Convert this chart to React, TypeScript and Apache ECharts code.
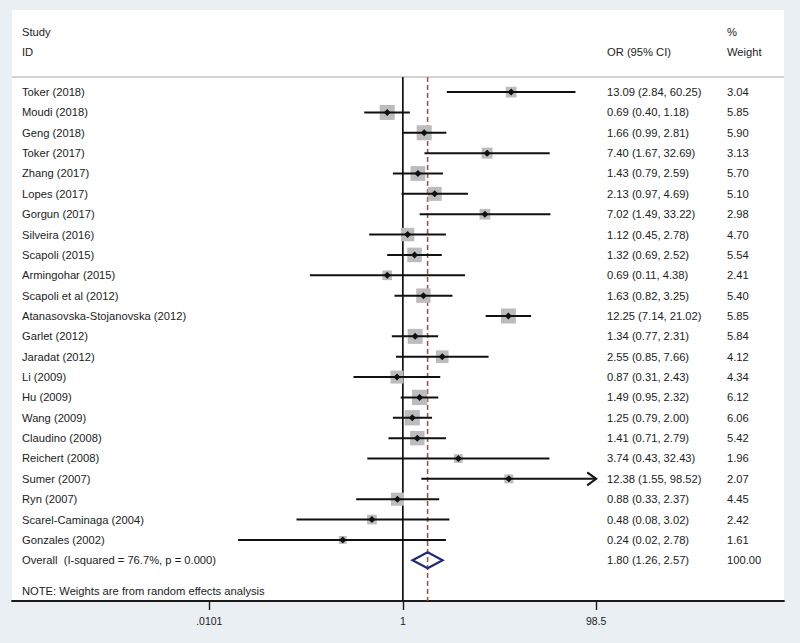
import React, { useEffect, useRef } from "react";
import * as echarts from "echarts";

const studies = [
  "Toker (2018)", "Moudi (2018)", "Geng (2018)", "Toker (2017)", "Zhang (2017)",
  "Lopes (2017)", "Gorgun (2017)", "Silveira (2016)", "Scapoli (2015)", "Armingohar (2015)",
  "Scapoli et al (2012)", "Atanasovska-Stojanovska (2012)", "Garlet (2012)", "Jaradat (2012)",
  "Li (2009)", "Hu (2009)", "Wang (2009)", "Claudino (2008)", "Reichert (2008)",
  "Sumer (2007)", "Ryn (2007)", "Scarel-Caminaga (2004)", "Gonzales (2002)",
];
const oddsRatios = [13.09, 0.69, 1.66, 7.40, 1.43, 2.13, 7.02, 1.12, 1.32, 0.69, 1.63, 12.25, 1.34, 2.55, 0.87, 1.49, 1.25, 1.41, 3.74, 12.38, 0.88, 0.48, 0.24];
const lowerCI = [2.84, 0.40, 0.99, 1.67, 0.79, 0.97, 1.49, 0.45, 0.69, 0.11, 0.82, 7.14, 0.77, 0.85, 0.31, 0.95, 0.79, 0.71, 0.43, 1.55, 0.33, 0.08, 0.02];
const upperCI = [60.25, 1.18, 2.81, 32.69, 2.59, 4.69, 33.22, 2.78, 2.52, 4.38, 3.25, 21.02, 2.31, 7.66, 2.43, 2.32, 2.00, 2.79, 32.43, 98.52, 2.37, 3.02, 2.78];
const weights = [3.04, 5.85, 5.90, 3.13, 5.70, 5.10, 2.98, 4.70, 5.54, 2.41, 5.40, 5.85, 5.84, 4.12, 4.34, 6.12, 6.06, 5.42, 1.96, 2.07, 4.45, 2.42, 1.61];

const overallLabel = "Overall  (I-squared = 76.7%, p = 0.000)";
const overallOR = 1.80;
const overallLower = 1.26;
const overallUpper = 2.57;
const overallWeight = 100.0;

const xTickValues = [0.0101, 1, 98.5];
const xTickLabels = [".0101", "1", "98.5"];
const noteText = "NOTE: Weights are from random effects analysis";

const FONT = '"Liberation Sans", Arial, sans-serif';
const FS = 11.2;
const TEXT = "#1c1c1c";
const X_MIN = -4.03;
const X_MAX = 3.93;
const AXIS_MAX_LOG = Math.log10(xTickValues[xTickValues.length - 1]);
const logTicks = xTickValues.map((v) => Math.log10(v));

const fmt = (v: number) => v.toFixed(2);

export default function App() {
  const ref = useRef<HTMLDivElement>(null);
  useEffect(() => {
    if (!ref.current) return;
    const chart = echarts.init(ref.current, null, { renderer: "svg" });

    const studyData = studies.map((_, i) => {
      const hiLog = Math.log10(upperCI[i]);
      const clipped = hiLog > AXIS_MAX_LOG ? 1 : 0;
      return [i, Math.log10(oddsRatios[i]), Math.log10(lowerCI[i]), clipped ? AXIS_MAX_LOG : hiLog, weights[i], clipped];
    });
    const textData = studies.map((_, i) => [i]);
    const overallRow = studies.length;
    const headStyle = (text: string) => ({ text, fill: TEXT, fontSize: FS, fontFamily: FONT, verticalAlign: "middle", textVerticalAlign: "middle" });

    const option: any = {
      animation: false,
      backgroundColor: "#e9eff2",
      grid: { left: 12, right: 16, top: 77, bottom: 42, containLabel: false },
      xAxis: {
        type: "value",
        min: X_MIN,
        max: X_MAX,
        splitLine: { show: false },
        axisLine: { show: true, onZero: false, lineStyle: { color: "#1a1a1a", width: 1.8 } },
        axisTick: { show: true, customValues: logTicks, length: 9, lineStyle: { color: "#1a1a1a", width: 1.4 } },
        axisLabel: {
          show: true,
          customValues: logTicks,
          margin: 14,
          color: TEXT,
          fontSize: 10.5,
          fontFamily: FONT,
          formatter: (v: number) => {
            const k = logTicks.findIndex((t) => Math.abs(t - v) < 1e-6);
            return k >= 0 ? xTickLabels[k] : "";
          },
        },
      },
      yAxis: { type: "value", inverse: true, min: -0.74, max: 25.0, show: false },
      graphic: [
        { type: "rect", z: -10, shape: { x: 12, y: 10, width: 772, height: 591 }, style: { fill: "#ffffff" } },
        { type: "line", z: 1, shape: { x1: 12, y1: 77, x2: 784, y2: 77 }, style: { stroke: "#c4c4c4", lineWidth: 1.6 } },
        { type: "text", x: 22, y: 32, style: headStyle("Study") },
        { type: "text", x: 22, y: 52, style: headStyle("ID") },
        { type: "text", x: 607, y: 52, style: headStyle("OR (95% CI)") },
        { type: "text", x: 727, y: 32, style: headStyle("%") },
        { type: "text", x: 727, y: 52, style: headStyle("Weight") },
        { type: "text", x: 22, y: 591, style: headStyle(noteText) },
      ],
      series: [
        {
          type: "custom",
          name: "refs",
          data: [[0, 0], [Math.log10(overallOR), 1]],
          z: 1,
          renderItem: (params: any, api: any) => {
            const x = api.coord([api.value(0), 0])[0];
            const cs = params.coordSys;
            const dashed = api.value(1) === 1;
            return {
              type: "line",
              shape: { x1: x, y1: cs.y, x2: x, y2: cs.y + cs.height },
              style: dashed
                ? { stroke: "#b4473d", lineWidth: 1.5, lineDash: [5, 3] }
                : { stroke: "#111111", lineWidth: 1.7 },
            };
          },
        },
        {
          type: "custom",
          name: "studies",
          data: studyData,
          z: 3,
          renderItem: (params: any, api: any) => {
            const i = api.value(0);
            const [xp, y] = api.coord([api.value(1), i]);
            const xl = api.coord([api.value(2), i])[0];
            const xh = api.coord([api.value(3), i])[0];
            const w = api.value(4);
            const clipped = api.value(5) === 1;
            const side = 6.2 * Math.sqrt(w);
            const children: any[] = [
              { type: "rect", shape: { x: xp - side / 2, y: y - side / 2, width: side, height: side }, style: { fill: "#bcbcbc" } },
              { type: "line", shape: { x1: xl, y1: y, x2: xh, y2: y }, style: { stroke: "#111111", lineWidth: 2 } },
              { type: "polygon", shape: { points: [[xp - 3.5, y], [xp, y - 3.5], [xp + 3.5, y], [xp, y + 3.5]] }, style: { fill: "#111111" } },
            ];
            if (clipped) {
              children.push({
                type: "polyline",
                shape: { points: [[xh - 9, y - 6.5], [xh, y], [xh - 9, y + 6.5]] },
                style: { stroke: "#111111", lineWidth: 2, fill: "none" },
              });
            }
            return { type: "group", children };
          },
        },
        {
          type: "custom",
          name: "overall",
          data: [[overallRow, Math.log10(overallOR), Math.log10(overallLower), Math.log10(overallUpper)]],
          z: 3,
          renderItem: (params: any, api: any) => {
            const i = api.value(0);
            const [xp, y] = api.coord([api.value(1), i]);
            const xl = api.coord([api.value(2), i])[0];
            const xh = api.coord([api.value(3), i])[0];
            return {
              type: "polygon",
              shape: { points: [[xl, y], [xp, y - 8], [xh, y], [xp, y + 8]] },
              style: { fill: "none", stroke: "#1f2a78", lineWidth: 2.2 },
            };
          },
        },
        {
          type: "custom",
          name: "texts",
          data: [...textData, [overallRow]],
          z: 4,
          renderItem: (params: any, api: any) => {
            const i = api.value(0);
            const y = api.coord([0, i])[1];
            const isOverall = i === overallRow;
            const name = isOverall ? overallLabel : studies[i];
            const orText = isOverall
              ? `${fmt(overallOR)} (${fmt(overallLower)}, ${fmt(overallUpper)})`
              : `${fmt(oddsRatios[i])} (${fmt(lowerCI[i])}, ${fmt(upperCI[i])})`;
            const wText = isOverall ? fmt(overallWeight) : fmt(weights[i]);
            const mk = (x: number, text: string) => ({
              type: "text",
              x,
              y,
              style: { text, fill: TEXT, fontSize: FS, fontFamily: FONT, align: "left", verticalAlign: "middle" },
            });
            return { type: "group", children: [mk(22, name), mk(607, orText), mk(727, wText)] };
          },
        },
      ],
    };
    chart.setOption(option);
    return () => chart.dispose();
  }, []);
  return <div ref={ref} style={{ position: "fixed", left: 0, top: 0, width: 800, height: 643 }} />;
}
